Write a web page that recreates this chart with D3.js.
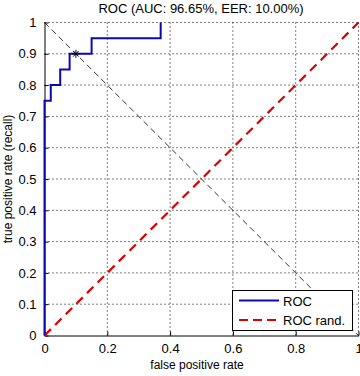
<!DOCTYPE html>
<html><head><meta charset="utf-8">
<script src="https://cdn.jsdelivr.net/npm/d3@7"></script>
<style>body{margin:0;background:#fff}svg{display:block}text{font-family:"Liberation Sans",Arial,sans-serif;fill:#000}</style>
</head><body>
<script>
const rocFpr = [0, 0, 0.02, 0.02, 0.05, 0.05, 0.08, 0.08, 0.15, 0.15, 0.37, 0.37];
const rocTpr = [0, 0.75, 0.75, 0.80, 0.80, 0.85, 0.85, 0.90, 0.90, 0.95, 0.95, 1.0];
const randFpr = [0, 1];
const randTpr = [0, 1];
const eerLineX = [0, 1];
const eerLineY = [1, 0];
const eerPoint = [0.10, 0.90];
const xTicks = [0, 0.2, 0.4, 0.6, 0.8, 1];
const yTicks = [0, 0.1, 0.2, 0.3, 0.4, 0.5, 0.6, 0.7, 0.8, 0.9, 1];
const legendLabels = ["ROC", "ROC rand."];
const titleText = "ROC (AUC: 96.65%, EER: 10.00%)";

const W = 360, H = 376;
const m = {l: 44.5, r: 358.5, t: 22.5, b: 335.5};
const svg = d3.select("body").append("svg").attr("width", W).attr("height", H);
const x = d3.scaleLinear().domain([0, 1]).range([m.l, m.r]);
const y = d3.scaleLinear().domain([0, 1]).range([m.b, m.t]);

// grid
const g = svg.append("g");
g.selectAll(".gx").data(xTicks.slice(1)).enter().append("line")
  .attr("x1", d => x(d)).attr("x2", d => x(d)).attr("y1", m.t).attr("y2", m.b)
  .attr("stroke", "#000").attr("stroke-width", 1).attr("stroke-dasharray", "1,3");
g.selectAll(".gy").data(yTicks.slice(1)).enter().append("line")
  .attr("y1", d => y(d)).attr("y2", d => y(d)).attr("x1", m.l).attr("x2", m.r)
  .attr("stroke", "#000").attr("stroke-width", 1).attr("stroke-dasharray", "1,3");

// axes
const xAxis = d3.axisBottom(x).tickValues(xTicks).tickFormat(d3.format("~g")).tickSizeInner(-4).tickSizeOuter(0).tickPadding(8);
const yAxis = d3.axisLeft(y).tickValues(yTicks).tickFormat(d3.format("~g")).tickSizeInner(-4).tickSizeOuter(0).tickPadding(8);
const ax = svg.append("g").attr("transform", `translate(0,${m.b})`).call(xAxis);
const ay = svg.append("g").attr("transform", `translate(${m.l},0)`).call(yAxis);
[ax, ay].forEach(a => {
  a.select(".domain").attr("stroke", "#000");
  a.selectAll(".tick line").attr("stroke", "#000");
  a.selectAll(".tick text").attr("font-size", 13).attr("font-family", "Liberation Sans, Arial, sans-serif").attr("fill", "#000");
});

// EER diagonal
const line = d3.line().x(d => x(d[0])).y(d => y(d[1]));
svg.append("path").datum(eerLineX.map((v, i) => [v, eerLineY[i]]))
  .attr("d", line).attr("fill", "none").attr("stroke", "#000").attr("stroke-width", 0.8).attr("stroke-dasharray", "6,4");

// random line
svg.append("path").datum(randFpr.map((v, i) => [v, randTpr[i]]))
  .attr("d", line).attr("fill", "none").attr("stroke", "#dd0000").attr("stroke-width", 2.2).attr("stroke-dasharray", "9,6");

// ROC
svg.append("path").datum(rocFpr.map((v, i) => [v, rocTpr[i]]))
  .attr("d", line).attr("fill", "none").attr("stroke", "#0a0ab4").attr("stroke-width", 2);

// EER star
const sx = x(eerPoint[0]), sy = y(eerPoint[1]), s = 4;
const star = svg.append("g").attr("stroke", "#000").attr("stroke-width", 1);
star.append("line").attr("x1", sx - s).attr("x2", sx + s).attr("y1", sy).attr("y2", sy);
star.append("line").attr("x1", sx).attr("x2", sx).attr("y1", sy - s).attr("y2", sy + s);
star.append("line").attr("x1", sx - s*0.7).attr("x2", sx + s*0.7).attr("y1", sy - s*0.7).attr("y2", sy + s*0.7);
star.append("line").attr("x1", sx - s*0.7).attr("x2", sx + s*0.7).attr("y1", sy + s*0.7).attr("y2", sy - s*0.7);

// title & labels
svg.append("text").attr("x", 201).attr("y", 13).attr("text-anchor", "middle").attr("font-size", 13).text(titleText);
svg.append("text").attr("x", 197).attr("y", 369).attr("text-anchor", "middle").attr("font-size", 12).text("false positive rate");
svg.append("text").attr("transform", `translate(12,${(m.t + m.b) / 2}) rotate(-90)`).attr("text-anchor", "middle").attr("font-size", 12).text("true positive rate (recall)");

// legend
const lg = svg.append("g");
lg.append("rect").attr("x", 232.5).attr("y", 290.5).attr("width", 120).attr("height", 40)
  .attr("fill", "#fff").attr("stroke", "#000").attr("stroke-width", 1);
const styles = [{c: "#0a0ab4", d: null}, {c: "#dd0000", d: "9,5"}];
legendLabels.forEach((lab, i) => {
  const yy = 300.5 + i * 19.5;
  lg.append("line").attr("x1", 239).attr("x2", 279).attr("y1", yy).attr("y2", yy)
    .attr("stroke", styles[i].c).attr("stroke-width", 2).attr("stroke-dasharray", styles[i].d);
  lg.append("text").attr("x", 283).attr("y", yy + 5).attr("font-size", 13).text(lab);
});
</script>
</body></html>
